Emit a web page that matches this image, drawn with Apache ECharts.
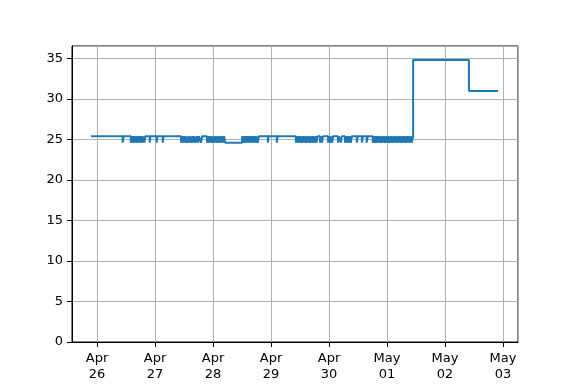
<!DOCTYPE html>
<html>
<head>
<meta charset="utf-8">
<script src="https://cdn.jsdelivr.net/npm/echarts@6/dist/echarts.min.js"></script>
<style>html,body{margin:0;padding:0;background:#fff}#c{width:576px;height:384px}</style>
</head>
<body>
<div id="c"></div>
<script>
// Hours measured from Apr 26 00:00
var startHour = -2.5;
var endHour = 165.9;
var baseValue = 25.4;
var dipValue = 24.6;
var dipStarts = [10.6,
  14.0,14.8,15.7,16.4,17.2,18.0,18.9,19.6,
  21.8,24.7,27.2,
  34.8,35.6,36.5,37.3,38.3,39.1,40.0,40.8,41.8,
  43.0,
  45.5,46.3,47.2,48.0,49.0,49.8,50.7,51.5,52.3,
  53.0,
  60.6,61.4,62.3,63.1,64.0,64.8,65.7,66.5,
  70.7,74.4,
  82.3,83.1,84.0,84.8,85.7,86.5,87.4,88.2,89.1,89.9,90.8,
  92.3,93.1,
  95.6,96.6,97.3,
  99.7,100.9,
  102.6,103.4,104.3,105.0,
  107.5,109.6,111.6,114.1,
  115.0,115.8,116.7,117.5,118.4,119.2,120.1,120.9,121.8,122.6,123.5,124.3,125.2,126.0,126.9,127.7,128.6,129.3,130.2];
var dipEnds = [11.0,
  14.4,15.3,16.0,16.9,17.6,18.5,19.2,20.0,
  22.1,25.0,27.5,
  35.2,36.1,36.8,37.9,38.6,39.6,40.3,41.4,42.2,
  43.5,
  45.9,46.8,47.5,48.6,49.3,50.3,51.0,51.9,52.6,
  60.0,
  61.0,61.9,62.7,63.6,64.4,65.3,66.0,67.0,
  71.0,74.7,
  82.7,83.6,84.3,85.3,86.0,87.0,87.7,88.7,89.4,90.4,91.3,
  92.7,93.5,
  96.0,97.0,97.7,
  100.1,101.3,
  103.0,103.9,104.6,105.5,
  107.9,110.0,112.0,114.5,
  115.4,116.3,117.0,118.0,118.7,119.7,120.4,121.4,122.1,123.1,123.8,124.8,125.5,126.5,127.2,128.2,128.9,129.8,130.8];
var levelHours = [130.8, 153.9];
var levelValues = [34.8, 31.0];
var tickLabels = ['Apr\n26','Apr\n27','Apr\n28','Apr\n29','Apr\n30','May\n01','May\n02','May\n03'];

var base = new Date(2021, 3, 26, 0, 0, 0).getTime();
function t(h){ return base + h * 3600000; }

var data = [[t(startHour), baseValue]];
for (var i = 0; i < dipStarts.length; i++) {
  data.push([t(dipStarts[i]), dipValue]);
  data.push([t(dipEnds[i]), baseValue]);
}
for (var j = 0; j < levelHours.length; j++) {
  data.push([t(levelHours[j]), levelValues[j]]);
}
data.push([t(endHour), levelValues[levelValues.length - 1]]);

var chart = echarts.init(document.getElementById('c'), null, {renderer: 'canvas'});
var font = 'DejaVu Sans';
chart.setOption({
  animation: false,
  grid: {left: 72, top: 46, width: 446, height: 296, show: true, borderColor: '#000', borderWidth: 1, backgroundColor: 'transparent'},
  xAxis: {
    type: 'time',
    min: t(-10.34), max: t(174.2),
    minInterval: 86400000, maxInterval: 86400000,
    axisLine: {show: true, lineStyle: {color: '#000', width: 1}},
    axisTick: {show: true, length: 5, inside: false, lineStyle: {color: '#000'}},
    splitLine: {show: true, lineStyle: {color: '#b0b0b0', width: 1}},
    axisLabel: {
      margin: 9, color: '#000', fontFamily: font, fontSize: 13, lineHeight: 16,
      formatter: function (v) {
        var d = Math.round((v - base) / 86400000);
        return tickLabels[d] !== undefined ? tickLabels[d] : '';
      }
    }
  },
  yAxis: {
    type: 'value', min: 0, max: 36.54, interval: 5,
    axisLine: {show: true, lineStyle: {color: '#000', width: 1}},
    axisTick: {show: true, length: 5, lineStyle: {color: '#000'}},
    splitLine: {show: true, lineStyle: {color: '#b0b0b0', width: 1}},
    axisLabel: {margin: 9, color: '#000', fontFamily: font, fontSize: 13, showMaxLabel: false,
      formatter: function (v) { return v > 36 ? '' : String(v); }}
  },
  series: [{
    type: 'line', step: 'end', data: data, showSymbol: false,
    lineStyle: {color: '#1f77b4', width: 2}, itemStyle: {color: '#1f77b4'}
  }]
});
</script>
</body>
</html>
